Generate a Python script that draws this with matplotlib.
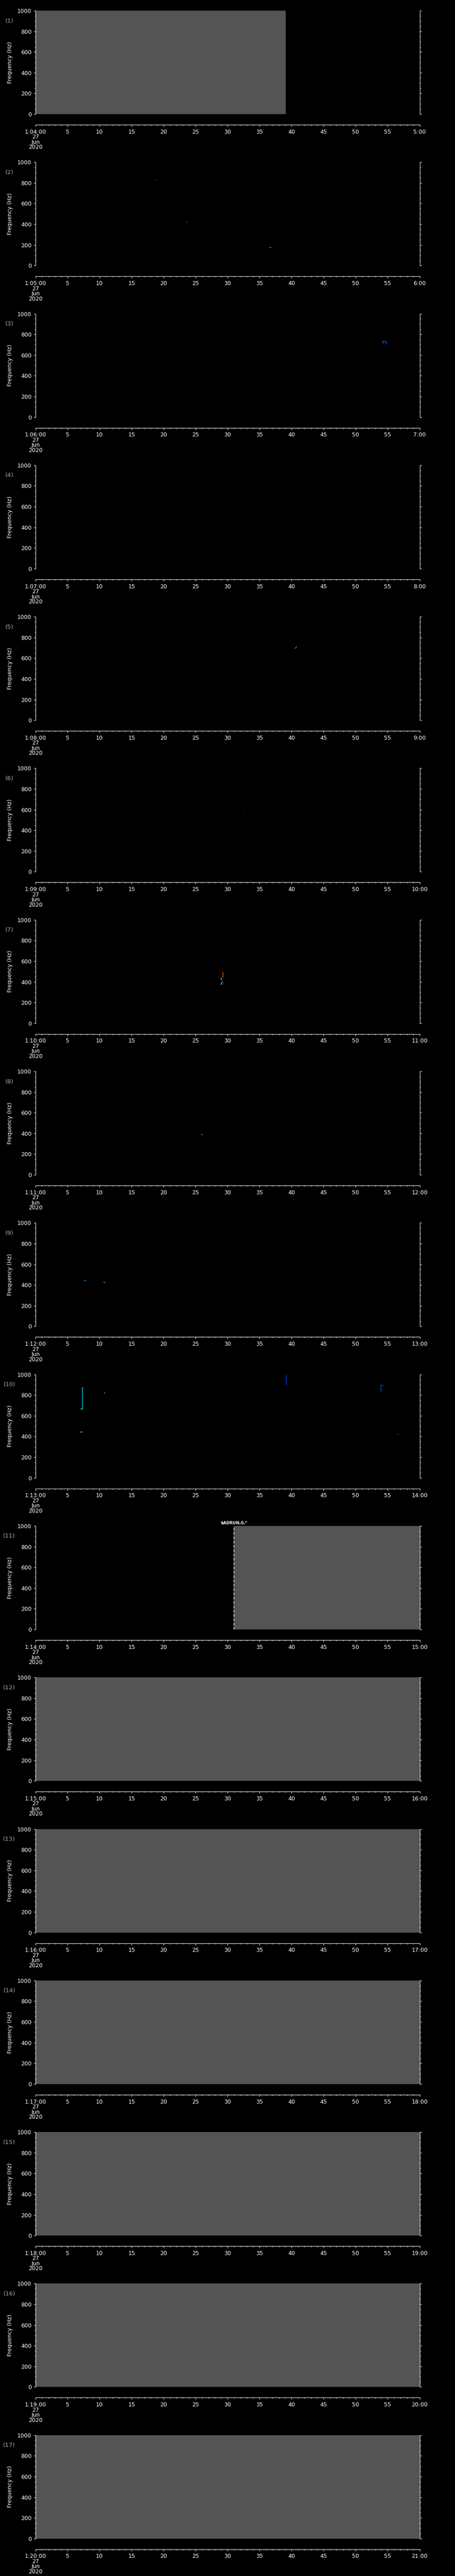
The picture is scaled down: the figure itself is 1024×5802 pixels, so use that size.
import matplotlib
matplotlib.use('Agg')
import matplotlib.pyplot as plt
from matplotlib.ticker import MultipleLocator

# minute of the hour at which each panel starts (1:MM:00, 27 Jun 2020)
start_minutes = [4, 5, 6, 7, 8, 9, 10, 11, 12, 13, 14, 15, 16, 17, 18, 19, 20]
date_lines = ['27', 'Jun', '2020']
freq_ticks = [0, 200, 400, 600, 800, 1000]

# grey "no data" spans (panel, start s, end s)
gray_panel = [1, 11, 12, 13, 14, 15, 16, 17]
gray_start = [0.0, 30.97, 0.0, 0.0, 0.0, 0.0, 0.0, 0.0]
gray_end = [39.05, 60.0, 60.0, 60.0, 60.0, 60.0, 60.0, 60.0]

# event marker
event_panel = 11
event_time = 30.97
event_text = '$ADRUN,0,*'

# small spectral features: panel, times (s), freqs (Hz), colour level (jet)
mark_panel = [2, 2, 2, 2, 2, 2,
              3,
              5,
              6,
              7, 7, 7, 7, 7, 7,
              8,
              9, 9,
              10, 10, 10, 10, 10, 10, 10, 10]
mark_t = [[18.62, 18.75], [18.75, 18.9], [23.5, 23.6], [23.6, 23.8], [36.5, 36.65], [36.65, 36.9],
          [54.26, 54.26, 54.3, 54.78, 54.8],
          [40.5, 40.65, 40.8],
          [32.3, 32.55],
          [29.3, 29.23, 29.23], [28.97, 29.0, 29.08], [28.97, 29.1, 29.2], [29.2, 29.3, 29.46],
          [26.4, 26.6], [18.15, 18.28],
          [25.9, 26.1],
          [7.5, 7.9], [10.6, 10.75, 10.9],
          [7.42, 7.31, 7.31], [7.05, 7.2, 7.3], [7.0, 7.15, 7.3], [7.3, 7.45, 7.55, 7.65],
          [10.7, 10.85], [39.1, 39.17, 39.17, 39.27], [54.35, 53.95, 53.95, 53.9], [56.4, 56.6]]
mark_f = [[836, 836], [836, 836], [422, 422], [422, 422], [178, 178], [178, 178],
          [708, 736, 731, 731, 701],
          [693, 702, 712],
          [567, 567],
          [494, 494, 442], [440, 425, 418], [371, 392, 404], [404, 388, 371],
          [417, 417], [24, 24],
          [391, 391],
          [443, 443], [430, 424, 424],
          [875, 875, 664], [670, 664, 664], [440, 444, 446], [446, 440, 430, 420],
          [822, 822], [995, 990, 902, 899], [895, 895, 830, 828], [425, 425]]
mark_level = [0.82, 0.12, 0.4, 0.15, 0.62, 0.2,
              0.22,
              0.3,
              0.1,
              0.8, 0.45, 0.55, 0.15,
              0.12, 0.1,
              0.4,
              0.25, 0.3,
              0.35, 0.5, 0.5, 0.1,
              0.5, 0.18, 0.2, 0.9]

W, H = 1024, 5802
n = len(start_minutes)
slot = H / n
gray = '#545454'
lw = 0.75

fig = plt.figure(figsize=(W / 100, H / 100), dpi=100)
fig.patch.set_facecolor('black')
plt.rcParams['font.family'] = 'DejaVu Sans'

for i, m in enumerate(start_minutes):
    p = i + 1
    top = i * slot

    ax = fig.add_axes([80 / W, 1 - (top + 257) / H, 864.5 / W, 233 / H])
    ax.set_facecolor('black')
    ax.set_xlim(0, 60)
    ax.set_ylim(0, 1000)
    for s in ['top', 'bottom']:
        ax.spines[s].set_visible(False)
    for s in ['left', 'right']:
        ax.spines[s].set_color('white')
        ax.spines[s].set_linewidth(lw)
    ax.set_xticks([])
    ax.set_yticks(freq_ticks)
    ax.yaxis.set_minor_locator(MultipleLocator(50))
    ax.tick_params(axis='y', which='both', direction='out', colors='white',
                   left=True, right=True, labelright=False, width=lw, labelsize=9, pad=3.5)
    ax.tick_params(axis='y', which='major', length=3)
    ax.tick_params(axis='y', which='minor', length=1.6)

    for gp, g0, g1 in zip(gray_panel, gray_start, gray_end):
        if gp == p:
            ax.axvspan(g0, g1, color=gray, lw=0, zorder=1)

    for mp, t, f, lev in zip(mark_panel, mark_t, mark_f, mark_level):
        if mp == p:
            ax.plot(t, f, color=plt.cm.jet(lev), lw=1.0, solid_capstyle='butt', zorder=3)

    if p == event_panel:
        ax.axvline(event_time, color='white', lw=1.0, ls=(0, (4, 3)), zorder=4)
        ax.text(event_time, 1010, event_text, color='white', fontsize=6.5,
                fontweight='bold', ha='center', va='bottom', clip_on=False)

    fig.text(23 / W, 1 - (top + 140.5) / H, 'Frequency (Hz)', color='white',
             fontsize=9, rotation=90, ha='center', va='center')
    fig.text(21 / W, 1 - (top + 47) / H, '(%d)' % p, color='#a8a8a8',
             fontsize=9.5, ha='center', va='center')

    # separate time axis below the panel
    tax = fig.add_axes([80 / W, 1 - (top + 281) / H, 864.5 / W, 0.3 / H])
    tax.patch.set_visible(False)
    for s in ['top', 'left', 'right']:
        tax.spines[s].set_visible(False)
    tax.spines['bottom'].set_color('white')
    tax.spines['bottom'].set_linewidth(lw)
    tax.set_xlim(0, 60)
    tax.set_yticks([])
    tax.xaxis.set_major_locator(MultipleLocator(5))
    tax.xaxis.set_minor_locator(MultipleLocator(1))
    labels = ['1:%02d:00\n' % m + '\n'.join(date_lines)]
    labels += [str(s) for s in range(5, 60, 5)]
    labels += ['%d:00' % (m + 1)]
    tax.set_xticks(list(range(0, 61, 5)))
    tax.set_xticklabels(labels, linespacing=0.85)
    tax.tick_params(axis='x', which='both', direction='out', colors='white',
                    width=lw, labelsize=9, pad=4)
    tax.tick_params(axis='x', which='major', length=3)
    tax.tick_params(axis='x', which='minor', length=1.6)

fig.savefig('out.png', dpi=100, facecolor='black')
